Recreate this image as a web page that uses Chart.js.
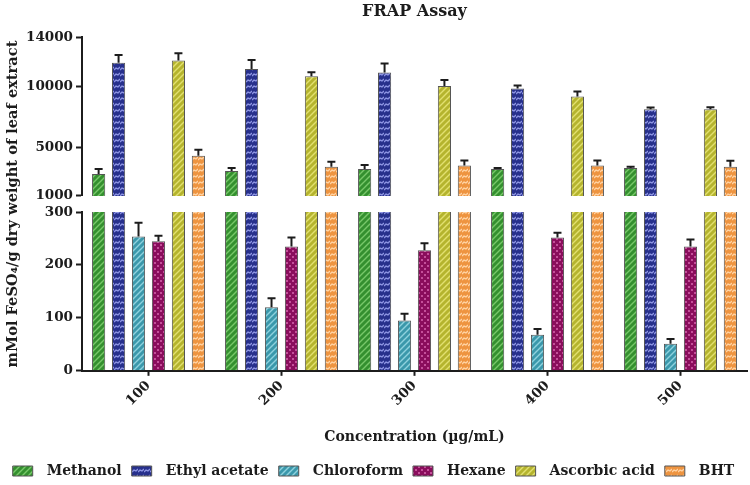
<!DOCTYPE html>
<html>
<head>
<meta charset="utf-8">
<script src="https://cdn.jsdelivr.net/npm/chart.js@4.4.1/dist/chart.umd.min.js"></script>
<style>
  html, body { margin: 0; padding: 0; background: #fff; }
  #wrap { width: 750px; height: 485px; }
</style>
</head>
<body>
<div id="wrap"><canvas id="frapChart" width="750" height="485"></canvas></div>
<script>
const categories = ['100', '200', '300', '400', '500'];
const seriesNames = ['Methanol', 'Ethyl acetate', 'Chloroform', 'Hexane', 'Ascorbic acid', 'BHT'];

const methanol     = [2800, 3050, 3200, 3200, 3300];
const methanolErr  = [400, 250, 330, 100, 100];
const ethylAcetate = [11900, 11400, 11100, 9800, 8100];
const ethylErr     = [650, 740, 740, 250, 150];
const chloroform   = [254, 120, 95, 68, 51];
const chloroErr    = [26, 17, 13, 11, 9];
const hexane       = [245, 235, 228, 252, 235];
const hexaneErr    = [10, 17, 13, 9, 13];
const ascorbicAcid = [12100, 10800, 10000, 9150, 8100];
const ascorbicErr  = [580, 330, 490, 410, 160];
const bht          = [4300, 3400, 3500, 3500, 3400];
const bhtErr       = [490, 410, 410, 410, 490];

const upperTicks = [1000, 5000, 10000, 14000];
const lowerTicks = [0, 100, 200, 300];

const seriesValues = [methanol, ethylAcetate, chloroform, hexane, ascorbicAcid, bht];
const seriesErrors = [methanolErr, ethylErr, chloroErr, hexaneErr, ascorbicErr, bhtErr];

// hatch fills like the original figure
function makePattern(base, line, kind) {
  const c = document.createElement('canvas');
  c.width = 6; c.height = 6;
  const g = c.getContext('2d');
  g.fillStyle = base;
  g.fillRect(0, 0, 6, 6);
  g.strokeStyle = line;
  g.fillStyle = line;
  g.lineWidth = 1.4;
  if (kind === 'diag') {
    g.beginPath();
    g.moveTo(-1, 7); g.lineTo(7, -1);
    g.moveTo(-1, 1); g.lineTo(1, -1);
    g.moveTo(5, 7); g.lineTo(7, 5);
    g.stroke();
  } else if (kind === 'wave') {
    g.beginPath();
    g.moveTo(0, 4); g.lineTo(2, 2); g.lineTo(4, 3); g.lineTo(6, 1);
    g.stroke();
  } else {
    g.fillRect(1, 1, 2, 2);
    g.fillRect(4, 4, 2, 2);
  }
  return g.createPattern(c, 'repeat');
}

const fills = [
  makePattern('#34902f', '#78c86a', 'diag'),
  makePattern('#27308c', '#8c94e2', 'wave'),
  makePattern('#3b98ab', '#8fd2de', 'diag'),
  makePattern('#8a0d5c', '#c4509a', 'dots'),
  makePattern('#b5b42e', '#e2e070', 'diag'),
  makePattern('#ee9440', '#ffd2a2', 'wave')
];

const ink = '#1c1c1c';
const serif = 'DejaVu Serif';

const datasets = [];
['yTop', 'yBot'].forEach(axis => {
  seriesNames.forEach((name, i) => {
    datasets.push({
      label: name,
      data: seriesValues[i],
      errors: seriesErrors[i],
      yAxisID: axis,
      stack: name,
      backgroundColor: fills[i],
      borderColor: '#555',
      borderWidth: 1,
      categoryPercentage: 0.9,
      barPercentage: 0.66
    });
  });
});

// clip each set of bars to its own axis band, then draw the upper error caps
const errorBars = {
  id: 'errorBars',
  beforeDatasetDraw(chart, args) {
    const ys = args.meta.yScale, a = chart.chartArea, ctx = chart.ctx;
    ctx.save();
    ctx.beginPath();
    ctx.rect(a.left, ys.top, a.right - a.left, ys.bottom - ys.top);
    ctx.clip();
  },
  afterDatasetDraw(chart, args) {
    const ctx = chart.ctx, meta = args.meta, ys = meta.yScale;
    const ds = chart.data.datasets[args.index];
    ctx.strokeStyle = ink;
    ctx.lineWidth = 2;
    meta.data.forEach((bar, i) => {
      const v = ds.data[i], e = ds.errors[i];
      const y0 = ys.getPixelForValue(v), y1 = ys.getPixelForValue(v + e);
      ctx.beginPath();
      ctx.moveTo(bar.x, y0); ctx.lineTo(bar.x, y1);
      ctx.moveTo(bar.x - 4, y1); ctx.lineTo(bar.x + 4, y1);
      ctx.stroke();
    });
    ctx.restore();
  }
};

const axisGrid = { display: true, drawOnChartArea: false, tickLength: 6, tickWidth: 2, color: ink };
const axisBorder = { display: true, color: ink, width: 2 };
const tickFont = { family: serif, weight: 'bold', size: 13.5 };
const yWidth = s => { s.width = 82; };
const plain = v => String(v);

new Chart(document.getElementById('frapChart'), {
  type: 'bar',
  data: { labels: categories, datasets: datasets },
  options: {
    responsive: false,
    animation: false,
    devicePixelRatio: 1,
    layout: { padding: { left: 0, right: 3, top: 0, bottom: -3 } },
    plugins: {
      title: {
        display: true,
        text: 'FRAP Assay',
        fullSize: false,
        color: ink,
        font: { family: serif, weight: 'bold', size: 16 },
        padding: { top: 2, bottom: 16 }
      },
      legend: {
        position: 'bottom',
        labels: {
          filter: item => item.datasetIndex < seriesNames.length,
          generateLabels: chart => {
            const items = Chart.defaults.plugins.legend.labels.generateLabels(chart);
            items.forEach(it => { it.text = '\u2002' + it.text; });
            return items;
          },
          boxWidth: 20,
          boxHeight: 10,
          padding: 10,
          color: ink,
          font: { family: serif, weight: 'bold', size: 14 }
        }
      },
      tooltip: { enabled: false }
    },
    scales: {
      x: {
        position: 'bottom',
        grid: { display: true, drawOnChartArea: false, offset: false, tickLength: 5, tickWidth: 2, color: ink },
        border: axisBorder,
        ticks: { minRotation: 45, maxRotation: 45, color: ink, font: tickFont, padding: 2 },
        title: {
          display: true,
          text: 'Concentration (µg/mL)',
          color: ink,
          font: { family: serif, weight: 'bold', size: 14 },
          padding: { top: 18, bottom: 8 }
        }
      },
      yTop: {
        type: 'linear', position: 'left', stack: 'v', stackWeight: 158, weight: 3,
        stacked: false, min: 1000, max: 14000,
        afterBuildTicks: s => { s.ticks = upperTicks.map(v => ({ value: v })); },
        afterFit: yWidth,
        grid: axisGrid, border: axisBorder,
        ticks: { color: ink, font: tickFont, padding: 3, callback: plain }
      },
      yGap: {
        type: 'linear', position: 'left', stack: 'v', stackWeight: 16, weight: 2,
        min: 0, max: 1,
        afterFit: yWidth,
        grid: { display: false }, border: { display: false },
        ticks: { display: false },
        title: {
          display: true,
          text: 'mMol FeSO₄/g dry weight of leaf extract',
          color: ink,
          font: { family: serif, weight: 'bold', size: 14.6 },
          padding: { top: 4, bottom: 0 }
        }
      },
      yBot: {
        type: 'linear', position: 'left', stack: 'v', stackWeight: 158, weight: 1,
        stacked: false, min: 0, max: 300,
        afterBuildTicks: s => { s.ticks = lowerTicks.map(v => ({ value: v })); },
        afterFit: yWidth,
        grid: axisGrid, border: axisBorder,
        ticks: { color: ink, font: tickFont, padding: 3, callback: plain }
      }
    }
  },
  plugins: [errorBars]
});
</script>
</body>
</html>
